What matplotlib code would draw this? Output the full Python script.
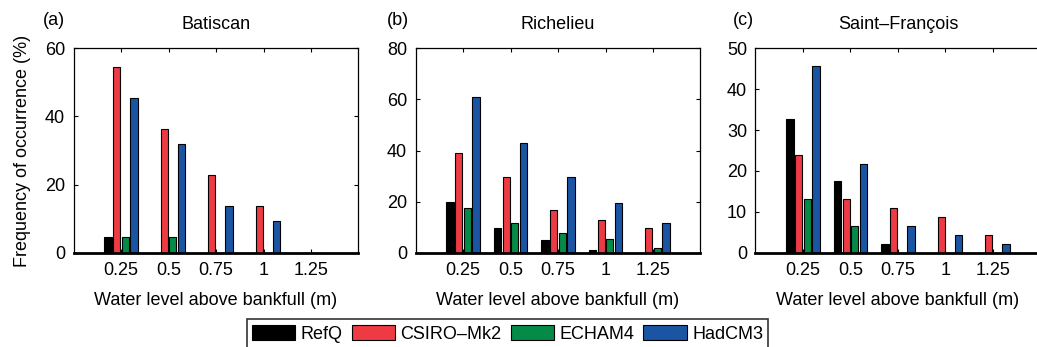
import numpy as np
import matplotlib
matplotlib.use('Agg')
import matplotlib.pyplot as plt
from matplotlib.patches import Patch

plt.rcParams['font.family'] = ['Liberation Sans', 'DejaVu Sans']

# Water level above bankfull (m)
levels = [0.25, 0.5, 0.75, 1.0, 1.25]
tick_labels = ['0.25', '0.5', '0.75', '1', '1.25']
series = ['RefQ', 'CSIRO\u2013Mk2', 'ECHAM4', 'HadCM3']
colors = ['#000000', '#ee3a42', '#058b48', '#1a55a4']

# Frequency of occurrence (%) per river, one list per series
batiscan_refq = [4.6, 0, 0, 0, 0]
batiscan_csiro = [54.6, 36.4, 22.9, 13.7, 0]
batiscan_echam = [4.6, 4.6, 0, 0, 0]
batiscan_hadcm = [45.5, 31.8, 13.7, 9.2, 0]

richelieu_refq = [19.8, 9.5, 4.8, 1.0, 0]
richelieu_csiro = [38.9, 29.5, 16.7, 12.8, 9.8]
richelieu_echam = [17.5, 11.6, 7.7, 5.4, 1.7]
richelieu_hadcm = [61.1, 42.8, 29.5, 19.3, 11.6]

stfrancois_refq = [32.7, 17.5, 2.2, 0, 0]
stfrancois_csiro = [24.0, 13.1, 10.9, 8.7, 4.3]
stfrancois_echam = [13.1, 6.5, 0, 0, 0]
stfrancois_hadcm = [45.7, 21.8, 6.5, 4.3, 2.2]

panels = [
    ('(a)', 'Batiscan', 60, 20,
     [batiscan_refq, batiscan_csiro, batiscan_echam, batiscan_hadcm]),
    ('(b)', 'Richelieu', 80, 20,
     [richelieu_refq, richelieu_csiro, richelieu_echam, richelieu_hadcm]),
    ('(c)', 'Saint\u2013Fran\u00e7ois', 50, 10,
     [stfrancois_refq, stfrancois_csiro, stfrancois_echam, stfrancois_hadcm]),
]

FS = 13

fig = plt.figure(figsize=(10.37, 3.47), dpi=100)
lefts = [0.0709, 0.4007, 0.7285]
tag_x = [0.0415, 0.373, 0.707]
bottom, height, width = 0.2717, 0.589, 0.2748

x = np.array(levels)
step = 0.0455
bw = 0.038

for i, (tag, name, ymax, ystep, data) in enumerate(panels):
    ax = fig.add_axes([lefts[i], bottom, width, height])
    for k, vals in enumerate(data):
        ax.bar(x + (k - 1.5) * step, vals, width=bw, color=colors[k],
               edgecolor='black', linewidth=0.8, zorder=2)
    ax.set_xlim(0, 1.5)
    ax.set_ylim(0, ymax)
    ax.set_xticks(levels)
    ax.set_xticklabels(tick_labels)
    ax.set_yticks(np.arange(0, ymax + 1, ystep))
    ax.tick_params(direction='in', top=True, right=(i < 2), length=3,
                   width=0.8, labelsize=FS)
    ax.tick_params(axis='x', pad=7)
    ax.tick_params(axis='y', pad=6)
    for s in ax.spines.values():
        s.set_linewidth(0.9)
    ax.spines['bottom'].set_linewidth(2.0)
    ax.spines['bottom'].set_zorder(3)
    ax.set_title(name, fontsize=FS, pad=14)
    ax.set_xlabel('Water level above bankfull (m)', fontsize=FS, labelpad=9)
    if i == 0:
        ax.set_ylabel('Frequency of occurrence (%)', fontsize=FS, labelpad=10)
    fig.text(tag_x[i], 0.94, tag, fontsize=FS, va='center')

handles = [Patch(facecolor=c, edgecolor='black', linewidth=0.8) for c in colors]
leg = fig.legend(handles, series, loc='center', bbox_to_anchor=(0.4894, 0.038),
                 ncol=4, fontsize=FS, handlelength=2.4, handleheight=0.95,
                 handletextpad=0.3, columnspacing=0.5, borderpad=0.3,
                 frameon=True, fancybox=False, borderaxespad=0)
leg.get_frame().set_edgecolor('black')
leg.get_frame().set_linewidth(1.2)

fig.savefig('out.png', dpi=100)
